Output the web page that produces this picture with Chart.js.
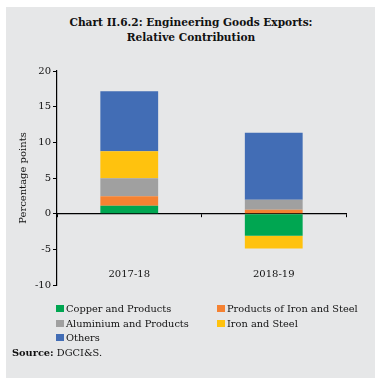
<!DOCTYPE html>
<html>
<head>
<meta charset="utf-8">
<script src="https://cdn.jsdelivr.net/npm/chart.js@4/dist/chart.umd.min.js"></script>
<style>
  html, body { margin: 0; padding: 0; background: #ffffff; }
  body { width: 382px; height: 381px; position: relative; overflow: hidden; }
  #panel { position: absolute; left: 6px; top: 7px; width: 369px; height: 371px; background: #e6e7e8; }
  #title { position: absolute; left: 0; top: 15px; width: 382px; text-align: center;
           font-family: "DejaVu Serif", serif; font-weight: bold; font-size: 10.6px; line-height: 15px; color: #111; }
  #chartWrap { position: absolute; left: 0; top: 0; width: 382px; height: 381px; }
  #legend { position: absolute; left: 56px; top: 302px; width: 320px;
            font-family: "DejaVu Serif", serif; font-size: 9.8px; color: #111; }
  .item { position: absolute; white-space: nowrap; line-height: 14px; }
  .sw { display: inline-block; width: 8px; height: 7px; margin-right: 2px; vertical-align: 0px; }
  #source { position: absolute; left: 12px; top: 347px; font-family: "DejaVu Serif", serif; font-size: 9.8px; color: #111; }
</style>
</head>
<body>
<div id="panel"></div>
<div id="title">Chart II.6.2: Engineering Goods Exports:<br>Relative Contribution</div>
<div id="chartWrap"><canvas id="c" width="382" height="381"></canvas></div>
<div id="legend"></div>
<div id="source"><b>Source:</b> DGCI&amp;S.</div>
<script>
const categories = ["2017-18", "2018-19"];
const seriesNames = ["Copper and Products", "Products of Iron and Steel", "Aluminium and Products", "Iron and Steel", "Others"];
const copper = [1.1, -3.1];
const productsIronSteel = [1.35, 0.55];
const aluminium = [2.5, 1.4];
const ironSteel = [3.8, -1.8];
const others = [8.4, 9.4];
const yTicks = [-10, -5, 0, 5, 10, 15, 20];
const colors = ["#00a651", "#f58232", "#a0a0a0", "#ffc20e", "#426db5"];
const seriesValues = [copper, productsIronSteel, aluminium, ironSteel, others];

const datasets = seriesNames.map((name, i) => ({
  label: name,
  data: seriesValues[i],
  backgroundColor: colors[i],
  borderWidth: 0,
  categoryPercentage: 0.4,
  barPercentage: 1.0,
  stack: "s"
}));

const serif = "'DejaVu Serif', serif";

new Chart(document.getElementById("c"), {
  type: "bar",
  data: { labels: categories, datasets: datasets },
  options: {
    responsive: false,
    animation: false,
    devicePixelRatio: 1,
    layout: { padding: { left: 0, right: 36, top: 71, bottom: 96 } },
    plugins: { legend: { display: false }, tooltip: { enabled: false } },
    scales: {
      x: {
        stacked: true,
        position: { y: 0 },
        offset: true,
        grid: { display: true, drawOnChartArea: false, offset: true, tickLength: 3, color: "#000", lineWidth: 1 },
        border: { display: true, color: "#000", width: 1.2 },
        ticks: { font: { family: serif, size: 10 }, color: "#111", padding: 52 }
      },
      y: {
        stacked: true,
        min: -10, max: 20,
        afterBuildTicks: (s) => { s.ticks = yTicks.map(v => ({ value: v })); },
        afterFit: (s) => { s.width = 57; },
        grid: { display: true, drawOnChartArea: false, tickLength: 4, color: "#000", lineWidth: 1 },
        border: { display: true, color: "#000", width: 1.2 },
        ticks: { font: { family: serif, size: 10 }, color: "#111", padding: 2 },
        title: { display: true, text: "Percentage points", font: { family: serif, size: 10 }, color: "#111", padding: { top: 17, bottom: 0 } }
      }
    }
  }
});

// HTML legend built from the series arrays
const legend = document.getElementById("legend");
const positions = [[0, 0], [161, 0], [0, 14.5], [161, 14.5], [0, 29]];
seriesNames.forEach((name, i) => {
  const d = document.createElement("div");
  d.className = "item";
  d.style.left = positions[i][0] + "px";
  d.style.top = positions[i][1] + "px";
  d.innerHTML = '<span class="sw" style="background:' + colors[i] + '"></span>' + name;
  legend.appendChild(d);
});
</script>
</body>
</html>
